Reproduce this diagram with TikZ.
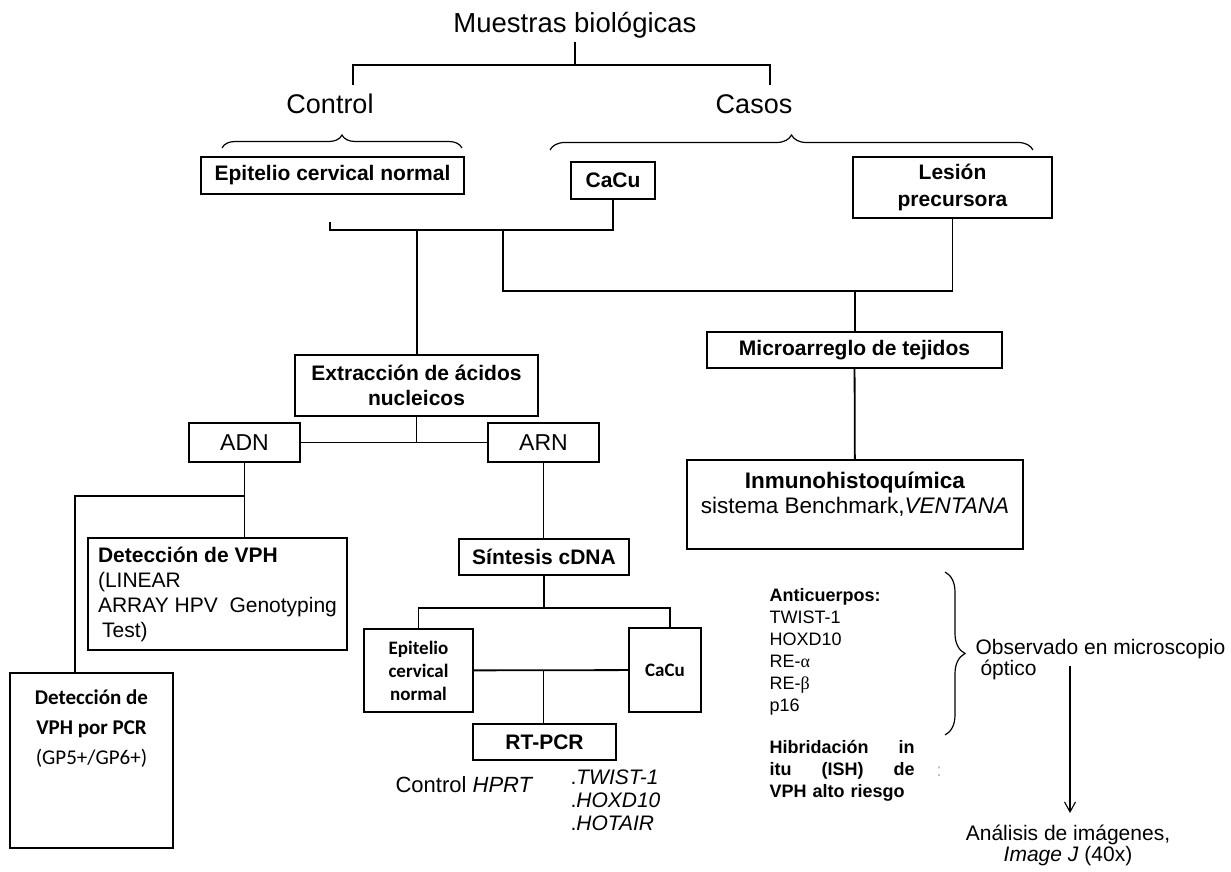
\documentclass[tikz,border=0pt]{standalone}
\usepackage{fontspec}
\setmainfont{Liberation Sans}
\newfontfamily\calfont{Carlito}
\newfontfamily\grkfont{Liberation Serif}
\usetikzlibrary{decorations.pathreplacing,arrows.meta}

\tikzset{
    caja/.style={draw, line width=1.3pt, inner sep=0pt, align=center},
    negrita/.style={font=\fontsize{21}{25}\selectfont\bfseries},
    linea/.style={line width=1.8pt},
    llave/.style={decorate, decoration={brace, amplitude=#1}, line width=1.2pt},
    flecha/.style={line width=1.1pt, -{Straight Barb[length=10pt,width=11pt]}, shorten >=8pt}
}

\begin{document}
\begin{tikzpicture}[x=1pt,y=-1pt]
                \useasboundingbox (0,0) rectangle (1231,872);

                % Title and the two groups
                \node [font=\fontsize{27.5}{30}\selectfont] (muestras) at (575,25) {Muestras biológicas};
                \node [font=\fontsize{27}{30}\selectfont] (control) at (330,104) {Control};
                \node [font=\fontsize{27}{30}\selectfont] (casos) at (754,104) {Casos};

                \coordinate (b0) at (575,65);
                \coordinate (bc) at (353,85);
                \coordinate (bk) at (770,85);
                \draw [linea] (muestras.south) -- (b0);
                \draw [linea] (bc) |- (b0) -| (bk);

                % Braces under Control and Casos
                \draw [llave=13pt] (222,148) -- (462,148);
                \draw [llave=15pt] (550,150) -- (1033,150);

                % Sample boxes
                \node [caja, negrita, minimum width=263pt, minimum height=37pt] (epi) at (332.5,175.5) {Epitelio cervical normal};
                \node [caja, negrita, minimum width=84pt, minimum height=37pt] (cacu) at (613,180.5) {CaCu};
                \node [caja, font=\fontsize{21}{27}\selectfont\bfseries, minimum width=199pt, minimum height=61pt] (lesion) at (952.5,187.5) {Lesión\\precursora};

                \coordinate (t1) at (330,222);
                \coordinate (j1) at (417,230);
                \coordinate (j2) at (503,230);
                \coordinate (j3) at (855,291);
                \draw [linea] (t1) -- (t1 |- j1) -- (j1 -| cacu) -- (cacu.south);
                \draw [linea] (j2) |- (j3) -| (lesion.south);

                % Tissue branch
                \node [caja, negrita, minimum width=295pt, minimum height=36pt] (micro) at (854.5,350) {Microarreglo de tejidos};
                \node [caja, minimum width=336pt, minimum height=89pt] (inmuno) at (855,504.5) {};
                \node [align=center, font=\fontsize{22.5}{25}\selectfont] (inmunotxt) at (855,494) {\textbf{Inmunohistoquímica}\\sistema Benchmark,\textit{VENTANA}};
                \draw [linea] (j3) -- (j3 |- micro.north);
                \draw [linea] (micro) -- (inmuno);

                % Nucleic acid branch
                \node [caja, negrita, minimum width=243pt, minimum height=61pt] (extr) at (416.5,385.5) {Extracción de ácidos\\nucleicos};
                \node [caja, font=\fontsize{23}{27}\selectfont, minimum width=111pt, minimum height=39pt] (adn) at (244.5,442.5) {ADN};
                \node [caja, font=\fontsize{23}{27}\selectfont, minimum width=111pt, minimum height=39pt] (arn) at (543.5,442.5) {ARN};
                \draw [linea] (j1) -- (j1 |- extr.north);
                \draw [linea] (extr) -- (extr |- adn);
                \draw [linea] (adn) -- (arn);

                % DNA side
                \node [caja, font=\fontsize{21}{25}\selectfont, align=left, minimum width=259pt, minimum height=112pt] (detvph) at (217.5,594) {\textbf{Detección de VPH}\\(LINEAR\\ARRAY HPV\ \ Genotyping\\\hspace*{4pt}Test)};
                \node [caja, minimum width=163pt, minimum height=175pt] (pcr) at (91.5,760.5) {};
                \node [align=center, font=\calfont\fontsize{21}{30}\selectfont] (pcrtxt) at (91.5,729) {\textbf{Detección de}\\\textbf{VPH por PCR}\\(GP5+/GP6+)};
                \coordinate (j4) at (244.5,496);
                \draw [linea] (adn) -- (adn |- detvph.north);
                \draw [linea] (j4) -| ([xshift=-16.5pt]pcr.north);

                % RNA side
                \node [caja, negrita, minimum width=170pt, minimum height=36pt] (sint) at (544,557) {Síntesis cDNA};
                \node [caja, font=\calfont\fontsize{19}{23}\selectfont\bfseries, minimum width=109pt, minimum height=83pt] (epi2) at (418.5,670.5) {Epitelio\\cervical\\normal};
                \node [caja, font=\calfont\fontsize{19}{23}\selectfont\bfseries, minimum width=72pt, minimum height=84pt] (cacu2) at (665,670) {CaCu};
                \node [caja, negrita, minimum width=143pt, minimum height=36pt] (rtpcr) at (544.5,742) {RT-PCR};
                \coordinate (j5) at (543.5,608);
                \coordinate (j6) at (670,608);
                \coordinate (j7) at (543.5,670);
                \draw [linea] (arn) -- (arn |- sint.north);
                \draw [linea] (sint) -- (sint |- j5);
                \draw [linea] (epi2.north) |- (j6) -- (j6 |- cacu2.north);
                \draw [linea] (epi2) -- (cacu2);
                \draw [linea] (j7) -- (j7 |- rtpcr.north);

                \node [font=\fontsize{22}{26}\selectfont] (hprt) at (464.5,785) {Control \textit{HPRT}};
                \node [anchor=west, align=left, font=\fontsize{21}{23}\selectfont] (genes) at (567,800) {.\textit{TWIST-1}\\.\textit{HOXD10}\\.\textit{HOTAIR}};

                % Antibodies and in situ hybridisation
                \node [anchor=west, align=left, font=\fontsize{18}{22}\selectfont] (anti) at (766,652) {\textbf{Anticuerpos:}\\TWIST-1\\HOXD10\\RE-{\grkfont α}\\RE-{\grkfont β}\\p16};
                \node [anchor=west, align=left, text width=145pt, font=\fontsize{18}{22}\selectfont\bfseries] (ish) at (766,771) {Hibridación\hfill in\\itu\hfill (ISH)\hfill de\\VPH alto riesgo};
                \node [font=\fontsize{18}{22}\selectfont, text=gray!60] (puntos) at (939,772) {:};
                \draw [llave=20pt] (945,572) -- (945,735);

                % Observation and image analysis
                \node [anchor=west, align=left, font=\fontsize{21}{21}\selectfont] (obs) at (972,660) {Observado en microscopio\\\hspace*{5pt}óptico};
                \node [align=center, font=\fontsize{21}{21}\selectfont] (anal) at (1068,845) {Análisis de imágenes,\\\textit{Image J} (40x)};
                \coordinate (fl) at (1070,666);
                \draw [flecha] (fl) -- (fl |- anal.north);

            \end{tikzpicture}
\end{document}
